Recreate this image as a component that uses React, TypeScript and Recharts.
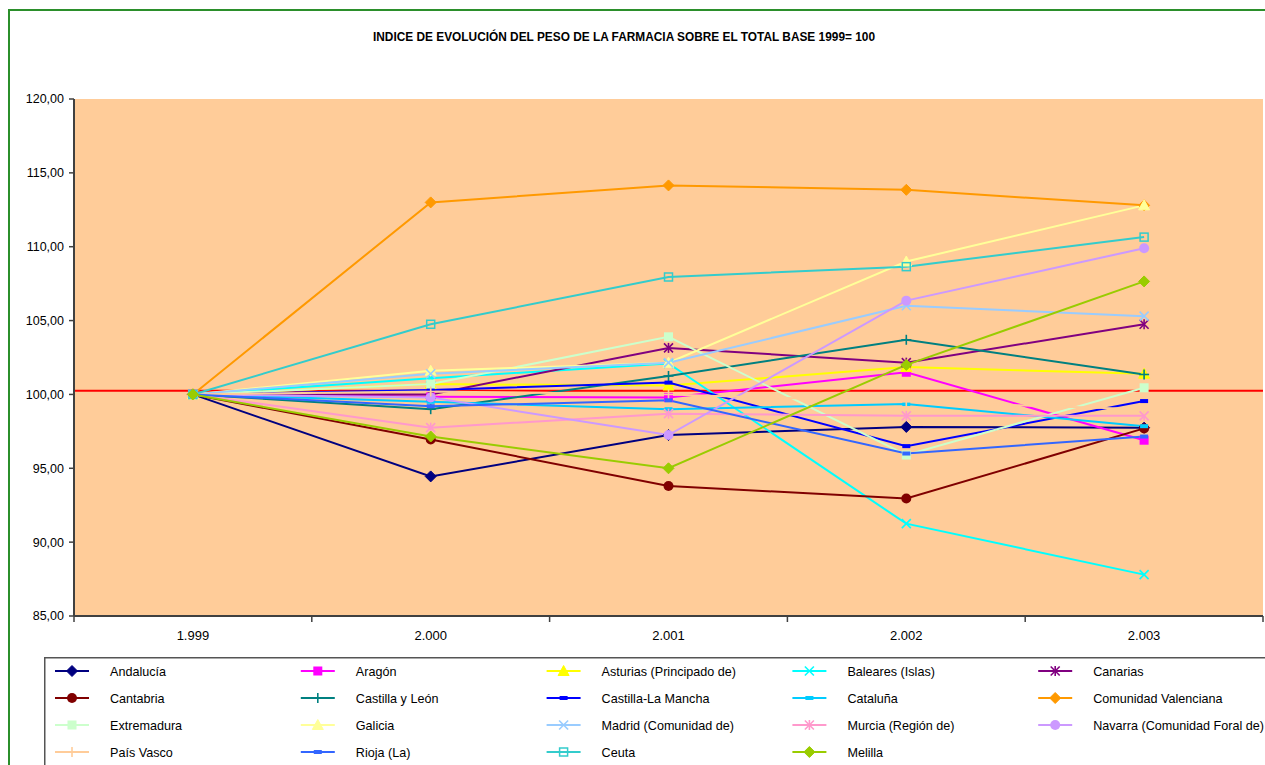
import React from "react";
import { LineChart, Line, XAxis, YAxis, CartesianGrid, ReferenceLine } from "recharts";

const title = "INDICE DE EVOLUCIÓN DEL PESO DE LA FARMACIA SOBRE EL TOTAL BASE 1999= 100";
const years = ["1.999", "2.000", "2.001", "2.002", "2.003"];
const yTicks = [85, 90, 95, 100, 105, 110, 115, 120];
const referenceValue = 100.25;

const andalucia = [100, 94.45, 97.25, 97.8, 97.75];
const aragon = [100, 99.85, 99.8, 101.5, 96.9];
const asturias = [100, 100.7, 100.6, 101.85, 101.4];
const baleares = [100, 101.1, 102.1, 91.25, 87.8];
const canarias = [100, 100.0, 103.15, 102.15, 104.75];
const cantabria = [100, 96.95, 93.8, 92.95, 97.7];
const castillaLeon = [100, 99.0, 101.25, 103.7, 101.35];
const castillaMancha = [100, 100.3, 100.8, 96.5, 99.55];
const cataluna = [100, 99.5, 99.0, 99.35, 97.85];
const valenciana = [100, 113.0, 114.15, 113.85, 112.8];
const extremadura = [100, 100.7, 103.9, 95.9, 100.45];
const galicia = [100, 101.6, 102.15, 109.0, 112.8];
const madrid = [100, 101.4, 102.15, 106.0, 105.3];
const murcia = [100, 97.75, 98.7, 98.55, 98.55];
const navarra = [100, 99.8, 97.25, 106.35, 109.9];
const paisVasco = [100, 100.2, 100.0, 99.5, 99.0];
const rioja = [100, 99.2, 99.6, 96.0, 97.15];
const ceuta = [100, 104.75, 107.95, 108.65, 110.65];
const melilla = [100, 97.15, 95.0, 102.0, 107.65];

type MarkerType = "diamond" | "square" | "openSquare" | "triangle" | "x" | "star" | "circle" | "plus" | "dash";

interface Series {
  key: string;
  name: string;
  values: number[];
  color: string;
  marker: MarkerType;
}

const seriesList: Series[] = [
  { key: "andalucia", name: "Andalucía", values: andalucia, color: "#000080", marker: "diamond" },
  { key: "aragon", name: "Aragón", values: aragon, color: "#FF00FF", marker: "square" },
  { key: "asturias", name: "Asturias (Principado de)", values: asturias, color: "#FFFF00", marker: "triangle" },
  { key: "baleares", name: "Baleares (Islas)", values: baleares, color: "#00FFFF", marker: "x" },
  { key: "canarias", name: "Canarias", values: canarias, color: "#800080", marker: "star" },
  { key: "cantabria", name: "Cantabria", values: cantabria, color: "#800000", marker: "circle" },
  { key: "castillaLeon", name: "Castilla y León", values: castillaLeon, color: "#008080", marker: "plus" },
  { key: "castillaMancha", name: "Castilla-La Mancha", values: castillaMancha, color: "#0000FF", marker: "dash" },
  { key: "cataluna", name: "Cataluña", values: cataluna, color: "#00CCFF", marker: "dash" },
  { key: "valenciana", name: "Comunidad Valenciana", values: valenciana, color: "#FF9900", marker: "diamond" },
  { key: "extremadura", name: "Extremadura", values: extremadura, color: "#CCFFCC", marker: "square" },
  { key: "galicia", name: "Galicia", values: galicia, color: "#FFFF99", marker: "triangle" },
  { key: "madrid", name: "Madrid (Comunidad de)", values: madrid, color: "#99CCFF", marker: "x" },
  { key: "murcia", name: "Murcia (Región de)", values: murcia, color: "#FF99CC", marker: "star" },
  { key: "navarra", name: "Navarra (Comunidad Foral de)", values: navarra, color: "#CC99FF", marker: "circle" },
  { key: "paisVasco", name: "País Vasco", values: paisVasco, color: "#FFCC99", marker: "plus" },
  { key: "rioja", name: "Rioja (La)", values: rioja, color: "#3366FF", marker: "dash" },
  { key: "ceuta", name: "Ceuta", values: ceuta, color: "#33CCCC", marker: "openSquare" },
  { key: "melilla", name: "Melilla", values: melilla, color: "#99CC00", marker: "diamond" },
];

const rows = years.map((year, i) => {
  const row: Record<string, string | number> = { year };
  seriesList.forEach((s) => {
    row[s.key] = s.values[i];
  });
  return row;
});

const FONT = "'Liberation Sans', Arial, Helvetica, sans-serif";

const CHART_W = 1257;
const CHART_H = 757;
const PLOT_LEFT = 66;
const PLOT_RIGHT = 1255;
const PLOT_TOP = 91;
const PLOT_BOTTOM = 608;
const BAND_HALF = (PLOT_RIGHT - PLOT_LEFT) / years.length / 2;

function Marker({ type, cx, cy, color }: { type: MarkerType; cx: number; cy: number; color: string }) {
  if (cx == null || cy == null || isNaN(cx) || isNaN(cy)) return <g />;
  switch (type) {
    case "diamond":
      return (
        <polygon
          points={`${cx},${cy - 5.5} ${cx + 5.5},${cy} ${cx},${cy + 5.5} ${cx - 5.5},${cy}`}
          fill={color}
          stroke={color}
          strokeWidth={1}
        />
      );
    case "square":
      return <rect x={cx - 4.5} y={cy - 4.5} width={9} height={9} fill={color} />;
    case "openSquare":
      return <rect x={cx - 4} y={cy - 4} width={8} height={8} fill="none" stroke={color} strokeWidth={1.5} />;
    case "triangle":
      return (
        <polygon
          points={`${cx},${cy - 5.5} ${cx + 5.5},${cy + 4.5} ${cx - 5.5},${cy + 4.5}`}
          fill={color}
          stroke={color}
          strokeWidth={1}
        />
      );
    case "x":
      return (
        <g stroke={color} strokeWidth={1.6}>
          <line x1={cx - 4.5} y1={cy - 4.5} x2={cx + 4.5} y2={cy + 4.5} />
          <line x1={cx - 4.5} y1={cy + 4.5} x2={cx + 4.5} y2={cy - 4.5} />
        </g>
      );
    case "star":
      return (
        <g stroke={color} strokeWidth={1.6}>
          <line x1={cx - 4.5} y1={cy - 4.5} x2={cx + 4.5} y2={cy + 4.5} />
          <line x1={cx - 4.5} y1={cy + 4.5} x2={cx + 4.5} y2={cy - 4.5} />
          <line x1={cx} y1={cy - 5} x2={cx} y2={cy + 5} />
        </g>
      );
    case "circle":
      return <circle cx={cx} cy={cy} r={5} fill={color} />;
    case "plus":
      return (
        <g stroke={color} strokeWidth={1.6}>
          <line x1={cx - 5} y1={cy} x2={cx + 5} y2={cy} />
          <line x1={cx} y1={cy - 5} x2={cx} y2={cy + 5} />
        </g>
      );
    case "dash":
      return <rect x={cx - 4} y={cy - 2} width={8} height={4} fill={color} />;
    default:
      return <g />;
  }
}

const XTick = (props: any) => {
  const { x, y, payload, index } = props;
  return (
    <g>
      <line x1={x - BAND_HALF} x2={x - BAND_HALF} y1={y} y2={y + 6} stroke="#404040" strokeWidth={1.5} />
      {index === years.length - 1 ? (
        <line x1={x + BAND_HALF} x2={x + BAND_HALF} y1={y} y2={y + 6} stroke="#404040" strokeWidth={1.5} />
      ) : null}
      <text x={x} y={y + 24} textAnchor="middle" fontSize={13} fontFamily={FONT} fill="#000">
        {payload.value}
      </text>
    </g>
  );
};

const formatY = (v: number) => v.toFixed(2).replace(".", ",");

function LegendBox() {
  const colW = 245.8;
  const rowH = 27;
  return (
    <svg width={1221} height={108} style={{ position: "absolute", left: 36, top: 649 }}>
      <rect x={0.75} y={0.75} width={1300} height={200} fill="#FFFFFF" stroke="#555555" strokeWidth={1.5} />
      {seriesList.map((s, i) => {
        const col = i % 5;
        const row = Math.floor(i / 5);
        const x0 = 11 + col * colW;
        const cy = 14 + row * rowH;
        return (
          <g key={s.key}>
            <line x1={x0} x2={x0 + 34} y1={cy} y2={cy} stroke={s.color} strokeWidth={2} />
            <Marker type={s.marker} cx={x0 + 17} cy={cy} color={s.color} />
            <text x={x0 + 55} y={cy + 4.5} fontSize={12.6} fontFamily={FONT} fill="#000">
              {s.name}
            </text>
          </g>
        );
      })}
    </svg>
  );
}

export default function App() {
  return (
    <div
      style={{
        position: "fixed",
        left: 8,
        top: 8,
        width: CHART_W,
        height: CHART_H,
        overflow: "hidden",
        background: "#FFFFFF",
        fontFamily: FONT,
      }}
    >
      <div style={{ position: "absolute", left: 0, top: 1, width: 2, height: CHART_H, background: "#2B8F2B" }} />
      <div style={{ position: "absolute", left: 0, top: 1, width: CHART_W, height: 2, background: "#2B8F2B" }} />
      <svg width={CHART_W} height={40} style={{ position: "absolute", left: 0, top: 0 }}>
        <text
          x={616}
          y={33}
          textAnchor="middle"
          fontSize={12}
          fontWeight="bold"
          fontFamily={FONT}
          fill="#000"
          textLength={502}
          lengthAdjust="spacingAndGlyphs"
        >
          {title}
        </text>
      </svg>
      <div style={{ position: "absolute", left: 0, top: 0 }}>
        <LineChart
          width={CHART_W}
          height={CHART_H}
          data={rows}
          margin={{ top: PLOT_TOP, right: CHART_W - PLOT_RIGHT, left: PLOT_LEFT - 60, bottom: CHART_H - PLOT_BOTTOM - 30 }}
        >
          <CartesianGrid horizontal={false} vertical={false} fill="#FFCC99" stroke="none" />
          <XAxis
            dataKey="year"
            height={30}
            padding={{ left: BAND_HALF, right: BAND_HALF }}
            tickLine={false}
            tickSize={0}
            tickMargin={0}
            interval={0}
            axisLine={{ stroke: "#404040", strokeWidth: 2 }}
            tick={<XTick />}
          />
          <XAxis
            xAxisId="frameTop"
            orientation="top"
            dataKey="year"
            height={0}
            tick={false}
            tickLine={false}
            axisLine={{ stroke: "#808080", strokeWidth: 1.5 }}
          />
          <YAxis
            width={60}
            domain={[85, 120]}
            ticks={yTicks}
            interval={0}
            tickFormatter={formatY}
            tickSize={5}
            tickMargin={5}
            axisLine={{ stroke: "#404040", strokeWidth: 2 }}
            tickLine={{ stroke: "#404040", strokeWidth: 1.5 }}
            tick={{ fontSize: 12.5, fill: "#000", fontFamily: FONT }}
          />
          <YAxis
            yAxisId="frameRight"
            orientation="right"
            width={0}
            domain={[85, 120]}
            tick={false}
            tickLine={false}
            axisLine={{ stroke: "#808080", strokeWidth: 1.5 }}
          />
          <ReferenceLine y={referenceValue} stroke="#FF0000" strokeWidth={2} />
          {seriesList.map((s) => (
            <Line
              key={s.key}
              dataKey={s.key}
              name={s.name}
              type="linear"
              stroke={s.color}
              strokeWidth={2}
              isAnimationActive={false}
              activeDot={false}
              dot={(p: any) => (
                <Marker key={`${s.key}-${p.index}`} type={s.marker} cx={p.cx} cy={p.cy} color={s.color} />
              )}
            />
          ))}
        </LineChart>
      </div>
      <LegendBox />
    </div>
  );
}
